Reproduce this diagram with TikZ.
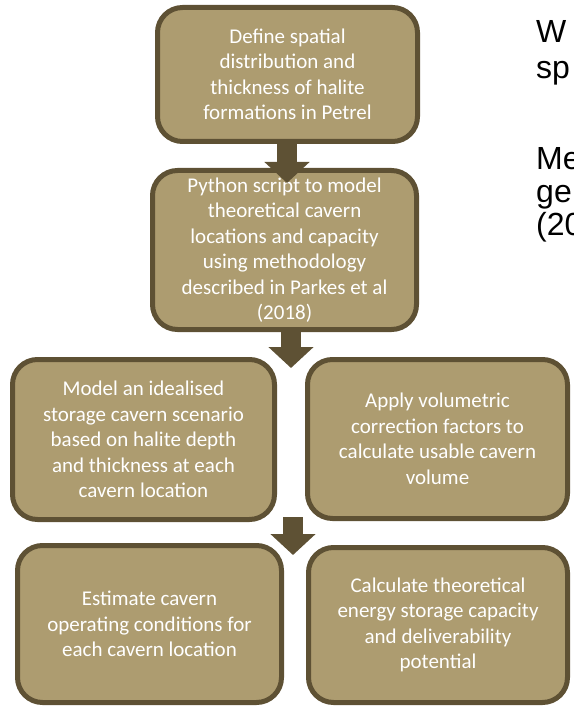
\documentclass[tikz,border=0pt]{standalone}
\usepackage{fontspec}
\setmainfont{Carlito}
\newfontfamily\slidefont{Liberation Sans}
\usetikzlibrary{arrows.meta}
\definecolor{halite}{RGB}{173,156,112}
\definecolor{haliteedge}{RGB}{94,81,52}

\begin{document}
\begin{tikzpicture}[x=1pt,y=-1pt,
  box/.style={draw=haliteedge,fill=halite,line width=5pt,rounded corners=25pt,
    text=white,align=center,inner sep=0pt,font=\fontsize{21}{25.5}\selectfont},
  flow/.style={draw=haliteedge,line width=20pt,-{Triangle[width=44pt,length=21pt]}},
  side/.style={anchor=base west,inner sep=0pt,font=\slidefont\fontsize{32}{36}\selectfont}]
\useasboundingbox (0,0) rectangle (573,708);
% boxes
\node[box,minimum width=260pt,minimum height=134pt] (define) at (287.5,74.5)
  {Define spatial\\distribution and\\thickness of halite\\formations in Petrel};
\node[box,minimum width=264pt,minimum height=159pt] (python) at (284.5,250)
  {Python script to model\\theoretical cavern\\locations and capacity\\using methodology\\described in Parkes et al\\(2018)};
\node[box,minimum width=262pt,minimum height=160pt] (model) at (143.5,439.5)
  {Model an idealised\\storage cavern scenario\\based on halite depth\\and thickness at each\\cavern location};
\node[box,minimum width=260pt,minimum height=159pt] (volume) at (437.5,439)
  {Apply volumetric\\correction factors to\\calculate usable cavern\\volume};
\node[box,minimum width=264pt,minimum height=157pt] (operate) at (149.5,624)
  {Estimate cavern\\operating conditions for\\each cavern location};
\node[box,minimum width=259pt,minimum height=155pt] (energy) at (438,625)
  {Calculate theoretical\\energy storage capacity\\and deliverability\\potential};
% arrows
\coordinate (tip1) at (287,183);
\coordinate (tip2) at (291,368);
\coordinate (tip3) at (293,555);
\draw[flow] (define.south -| tip1) -- (tip1);
\draw[flow] (python.south -| tip2) -- (tip2);
\draw[flow,shorten <=-5pt] (model.south -| tip3) -- (tip3);
% text beside
\node[side] (what) at (536,43) {W};
\node[side] (spatial) at (536,79) {sp};
\node[side] (method) at (536,170) {Me};
\node[side] (geo) at (536,203) {ge};
\node[side] (year) at (536,236) {(20};
\end{tikzpicture}
\end{document}
